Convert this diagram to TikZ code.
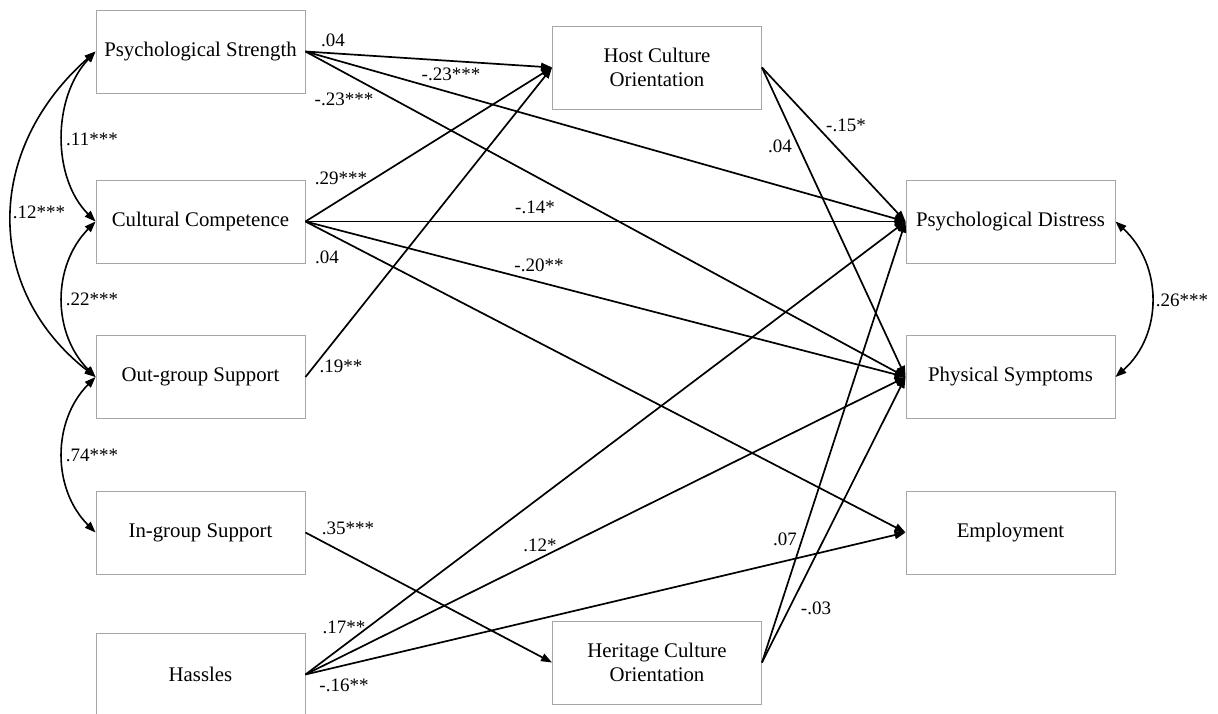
\documentclass[tikz,border=0pt]{standalone}
\usepackage{fontspec}
\setmainfont{Liberation Serif}
\usetikzlibrary{arrows.meta}
\begin{document}
\begin{tikzpicture}[x=1pt,y=-1pt,
  box/.style={draw=gray!70, line width=0.9pt, minimum width=209pt, minimum height=83pt, inner sep=0pt, align=center, font=\fontsize{20.8}{24.5}\selectfont},
  arr/.style={line width=1.7pt, -{Triangle[length=11pt,width=8pt]}},
  covar/.style={line width=1.6pt, {Triangle[length=11pt,width=8pt]}-{Triangle[length=11pt,width=8pt]}},
  lab/.style={font=\fontsize{19}{22}\selectfont, inner sep=0pt}]
\clip (0,0) rectangle (1218,714);
\fill[white] (0,0) rectangle (1218,714);

% nodes
\node[box] (ps)   at (200.5,51.5)  {Psychological Strength};
\node[box] (cc)   at (200.5,221.5) {Cultural Competence};
\node[box] (os)   at (200.5,377)   {Out-group Support};
\node[box] (is)   at (200.5,532.5) {In-group Support};
\node[box] (ha)   at (200.5,674.5) {Hassles};
\node[box] (host) at (657,67.5)    {Host Culture\\Orientation};
\node[box] (her)  at (657,662.5)   {Heritage Culture\\Orientation};
\node[box] (pd)   at (1010.5,221.5) {Psychological Distress};
\node[box] (phs)  at (1010.5,377)   {Physical Symptoms};
\node[box] (emp)  at (1010.5,532.5) {Employment};

% directed paths
\draw[arr] (ps.east) -- (host.west);
\draw[arr] (ps.east) -- (pd.west);
\draw[arr] (ps.east) -- (phs.west);
\draw[arr] (cc.east) -- (host.west);
\draw[arr] (cc.east) -- (pd.west);
\draw[arr] (cc.east) -- (phs.west);
\draw[arr] (cc.east) -- (emp.west);
\draw[arr] (os.east) -- (host.west);
\draw[arr] (is.east) -- (her.west);
\draw[arr] (ha.east) -- (pd.west);
\draw[arr] (ha.east) -- (phs.west);
\draw[arr] (ha.east) -- (emp.west);
\draw[arr] (host.east) -- (pd.west);
\draw[arr] (host.east) -- (phs.west);
\draw[arr] (her.east) -- (pd.west);
\draw[arr] (her.east) -- (phs.west);

% covariances
\draw[covar] (ps.west) .. controls (52,98) and (52,178) .. (cc.west);
\draw[covar] (ps.west) .. controls (-16,150) and (-16,290) .. (os.west);
\draw[covar] (cc.west) .. controls (52,266) and (52,333) .. (os.west);
\draw[covar] (os.west) .. controls (52,421) and (52,489) .. (is.west);
\draw[covar] (pd.east) .. controls (1163,265) and (1163,335) .. (phs.east);

% labels
\node[lab] (l1)  at (333,40)  {.04};
\node[lab] (l2)  at (451,74)  {-.23***};
\node[lab] (l3)  at (344,99)  {-.23***};
\node[lab] (l4)  at (341,178) {.29***};
\node[lab] (l5)  at (535,207) {-.14*};
\node[lab] (l6)  at (539,265) {-.20**};
\node[lab] (l7)  at (327,257) {.04};
\node[lab] (l8)  at (341,366) {.19**};
\node[lab] (l9)  at (348,528) {.35***};
\node[lab] (l10) at (344,627) {.17**};
\node[lab] (l11) at (540,545) {.12*};
\node[lab] (l12) at (344,685) {-.16**};
\node[lab] (l13) at (846,125) {-.15*};
\node[lab] (l14) at (780,146) {.04};
\node[lab] (l15) at (785,539) {.07};
\node[lab] (l16) at (816,608) {-.03};
\node[lab] (l17) at (92,139)  {.11***};
\node[lab] (l18) at (39,212)  {.12***};
\node[lab] (l19) at (92,299)  {.22***};
\node[lab] (l20) at (92,455)  {.74***};
\node[lab] (l21) at (1182,300) {.26***};
\end{tikzpicture}
\end{document}
